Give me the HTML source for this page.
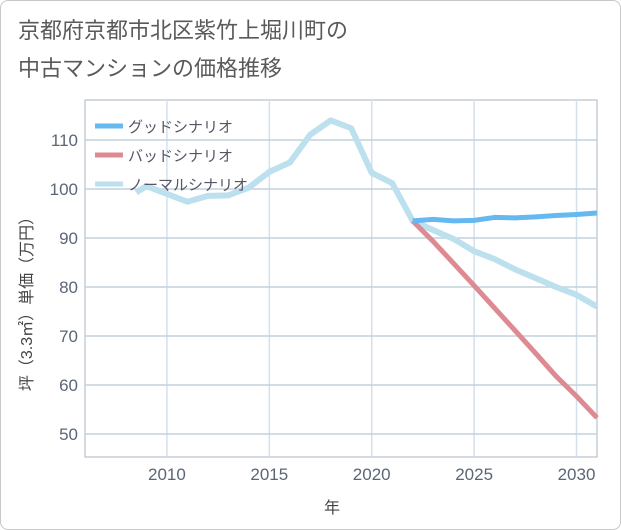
<!DOCTYPE html>
<html><head><meta charset="utf-8"><style>
body{margin:0;background:#fff;font-family:"Liberation Sans","Noto Sans CJK JP",sans-serif}
#wrap{position:relative;width:619px;height:528px;border:1px solid #c8c8c8;border-radius:8px;overflow:hidden}
</style></head><body>
<div id="wrap">
<svg id="chart" width="621" height="530" style="position:absolute;left:-1px;top:-1px">
<text x="18" y="38" font-size="22" fill="#5a5a5a">京都府京都市北区紫竹上堀川町の</text>
<text x="18" y="76" font-size="22" fill="#5a5a5a">中古マンションの価格推移</text>
<g id="grid"></g><g id="series"></g><g id="legend"></g>
<text x="332" y="513" font-size="16" fill="#444" text-anchor="middle">年</text>
<text transform="translate(32,300) rotate(-90)" font-size="16" fill="#444" text-anchor="middle">坪（3.3㎡）単価（万円）</text>
</svg></div>
<script>
const xTicks=[2010,2015,2020,2025,2030];
const yTicks=[50,60,70,80,90,100,110];
const normalYears=[2008.5,2009,2010,2011,2012,2013,2014,2015,2016,2017,2018,2019,2020,2021,2022,2023,2024,2025,2026,2027,2028,2029,2030,2031];
const normalVals=[99.3,100.6,99,97.4,98.6,98.7,100.3,103.5,105.4,111.1,114,112.4,103.3,101.2,93.5,91.6,89.8,87.3,85.7,83.6,81.8,80,78.4,76];
const futureYears=[2022,2023,2024,2025,2026,2027,2028,2029,2030,2031];
const goodVals=[93.5,93.8,93.5,93.6,94.2,94.1,94.3,94.6,94.8,95.1];
const badVals=[93.5,89.3,84.8,80.3,75.7,71.1,66.5,61.8,57.7,53.3];
const NS="http://www.w3.org/2000/svg";
const X0=85,X1=597,Y0=100,Y1=457;
const xs=y=>X0+(y-2006)*(X1-X0)/25;
const ys=v=>189-(v-100)*4.9;
function mk(t,a,p){const e=document.createElementNS(NS,t);for(const k in a)e.setAttribute(k,a[k]);p.appendChild(e);return e;}
const g=document.getElementById('grid');
mk('rect',{x:X0,y:Y0,width:X1-X0,height:Y1-Y0,fill:'none',stroke:'#aab4c0'},g);
xTicks.forEach(t=>{const l=mk('line',{x1:xs(t),x2:xs(t),y1:Y0,y2:Y1,stroke:'#d4e0ec','stroke-width':1.5},g);


const tx=mk('text',{x:xs(t),y:Y1+23,'font-size':17,fill:'#5a6678','text-anchor':'middle'},g);tx.textContent=t;

});
yTicks.forEach(t=>{const l=mk('line',{x1:X0,x2:X1,y1:ys(t),y2:ys(t),stroke:'#c4d0dc','stroke-width':1.5},g);


const tx=mk('text',{x:X0-7,y:ys(t)+6,'font-size':17,fill:'#5a6678','text-anchor':'end'},g);tx.textContent=t;

});
const s=document.getElementById('series');
function line(yrs,vals,c,name,w){const p=mk('polyline',{points:yrs.map((y,i)=>xs(y)+','+ys(vals[i])).join(' '),fill:'none',stroke:c,'stroke-width':w,'stroke-linejoin':'round'},s);

}
line(normalYears,normalVals,'#bde0ef','normal-scenario-line',6);
line(futureYears,badVals,'#de8a92','bad-scenario-line',5);
line(futureYears,goodVals,'#66b8f0','good-scenario-line',5);
const lg=document.getElementById('legend');
[['グッドシナリオ','#66b8f0','legend-good'],['バッドシナリオ','#de8a92','legend-bad'],['ノーマルシナリオ','#bde0ef','legend-normal']].forEach((d,i)=>{
const gg=mk('g',{},lg);


const y=126+i*29;
mk('line',{x1:95,x2:123,y1:y,y2:y,stroke:d[1],'stroke-width':5},gg);
const t=mk('text',{x:128,y:y+6,'font-size':15,fill:'#556'},gg);t.textContent=d[0];});
</script>
</body></html>
